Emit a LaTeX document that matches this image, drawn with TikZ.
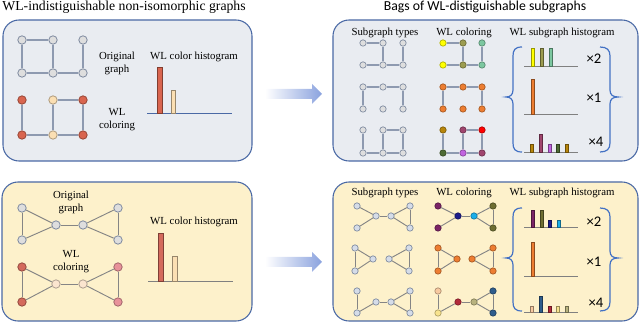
\documentclass[tikz,border=0pt]{standalone}
\usepackage{fontspec}
\setmainfont{Liberation Serif}
\newfontfamily\calfont{Carlito}
\definecolor{boxline}{HTML}{4A69A5}
\definecolor{topfill}{HTML}{E9ECF1}
\definecolor{botfill}{HTML}{FDF1CB}
\definecolor{nodegray}{HTML}{DEDEDE}
\definecolor{nodeblue}{HTML}{D5DCE8}
\definecolor{nodeline}{HTML}{7F8BA0}
\definecolor{edgecol}{HTML}{8E9AB0}
\definecolor{edgegray}{HTML}{858585}
\definecolor{arrowblue}{HTML}{8AA2DE}
\definecolor{braceblue}{HTML}{4472C4}
\definecolor{cred}{HTML}{D9654F}
\definecolor{cpeach}{HTML}{FBDFB3}
\definecolor{cred2}{HTML}{D46A5C}
\definecolor{cpeach2}{HTML}{FBE5CF}
\definecolor{cpink}{HTML}{E8929A}
\definecolor{cyellow}{HTML}{FFFF00}
\definecolor{colive}{HTML}{9C9C50}
\definecolor{cmint}{HTML}{7CC7A0}
\definecolor{corange}{HTML}{ED7D31}
\definecolor{cgold}{HTML}{B8860B}
\definecolor{cberry}{HTML}{A0456E}
\definecolor{cbred}{HTML}{FF0000}
\definecolor{cdgreen}{HTML}{4E6B34}
\definecolor{cviolet}{HTML}{C264E0}
\definecolor{cpurple}{HTML}{7B2466}
\definecolor{cnavy}{HTML}{1C1C8C}
\definecolor{ccyan}{HTML}{1AAEEA}
\definecolor{colive2}{HTML}{6E6E32}
\definecolor{cpeach3}{HTML}{F7C9A0}
\definecolor{clyellow}{HTML}{F8E38E}
\definecolor{ccrimson}{HTML}{B32A3A}
\definecolor{ckhaki}{HTML}{B8B27E}
\definecolor{csteel}{HTML}{2F5D8C}
\tikzset{
  bn/.style={circle, inner sep=0pt, minimum size=6.3pt, draw=nodeline, line width=0.6pt, fill=nodegray},
  sn/.style={circle, inner sep=0pt, minimum size=4.8pt, draw=nodeline, line width=0.5pt, fill=nodegray},
  sb/.style={sn, fill=nodeblue},
  bc/.style={bn, fill=#1, draw=#1!70!black},
  sc/.style={sn, fill=#1, draw=#1!70!black},
  ed/.style={draw=edgecol, line width=1.3pt},
  ted/.style={draw=edgegray, line width=0.7pt},
  lab/.style={font=\fontsize{8.1}{9.75}\selectfont, inner sep=0pt, align=center},
  mult/.style={font=\calfont\fontsize{11}{12}\selectfont, inner sep=0pt},
  boxst/.style={draw=boxline, line width=0.8pt, rounded corners=12pt},
  brace/.style={draw=braceblue, line width=0.9pt},
  bar/.style={fill=#1, draw=#1!60!black, line width=0.4pt},
  base/.style={draw=gray, line width=0.6pt},
}
\begin{document}
\begin{tikzpicture}[x=0.75pt, y=-0.75pt]
\useasboundingbox (0,0) rectangle (640,323);
% titles
\node[inner sep=0pt, font=\fontsize{10.3}{12}\selectfont] (t1) at (124,7) {WL-indistiguishable non-isomorphic graphs};
\node[inner sep=0pt, font=\calfont\fontsize{10.3}{12}\selectfont] (t2) at (485,7) {Bags of WL-distiguishable subgraphs};
% boxes
\draw[boxst, fill=topfill] (3,20) rectangle (252,161);
\draw[boxst, fill=topfill] (333,20) rectangle (638,161);
\draw[boxst, fill=botfill] (2,182) rectangle (252,321);
\draw[boxst, fill=botfill] (333,182) rectangle (638,321);
% arrows
\shade[left color=white, right color=arrowblue] (265,89) -- (312,89) -- (312,84) -- (322,94) -- (312,104) -- (312,99) -- (265,99) -- cycle;
\shade[left color=white, right color=arrowblue] (265,257) -- (312,257) -- (312,252) -- (322,262) -- (312,272) -- (312,267) -- (265,267) -- cycle;

% ===== top-left =====
\node[bn] (a1) at (22,40) {}; \node[bn] (a2) at (53,40) {}; \node[bn] (a3) at (83,40) {};
\node[bn] (a4) at (22,73) {}; \node[bn] (a5) at (53,73) {}; \node[bn] (a6) at (83,73) {};
\draw[ed] (a1) -- (a2); \draw[ed] (a1) -- (a4); \draw[ed] (a2) -- (a5);
\draw[ed] (a4) -- (a5); \draw[ed] (a5) -- (a6); \draw[ed] (a3) -- (a6);
\node[bc=cred] (b1) at (22,100) {}; \node[bc=cpeach] (b2) at (53,100) {}; \node[bc=cred] (b3) at (83,100) {};
\node[bc=cred] (b4) at (22,135) {}; \node[bc=cpeach] (b5) at (53,135) {}; \node[bc=cred] (b6) at (83,135) {};
\draw[ed] (b1) -- (b4); \draw[ed] (b2) -- (b3); \draw[ed] (b2) -- (b5);
\draw[ed] (b3) -- (b6); \draw[ed] (b4) -- (b5); \draw[ed] (b5) -- (b6);
\node[lab] (l1) at (117,63.5) {Original\\graph};
\node[lab] (l2) at (117,120) {WL\\coloring};
\node[lab] (l3) at (194,57) {WL color histogram};
\draw[draw=boxline, line width=0.6pt] (147,113) -- (232,113);
\draw[bar=cred] (157,113) rectangle (162,67);
\draw[bar=cpeach] (171,113) rectangle (175.5,90);

% ===== bottom-left =====
\node[bn] (g1) at (22,208) {}; \node[bn] (g2) at (22,240) {}; \node[bn] (g3) at (56,225) {};
\node[bn] (g4) at (83,225) {}; \node[bn] (g5) at (118,208) {}; \node[bn] (g6) at (118,240) {};
\draw[ted] (g1) -- (g2); \draw[ted] (g1) -- (g3); \draw[ted] (g2) -- (g3); \draw[ted] (g3) -- (g4);
\draw[ted] (g4) -- (g5); \draw[ted] (g4) -- (g6); \draw[ted] (g5) -- (g6);
\node[bc=cred2] (h1) at (22,267) {}; \node[bc=cred2] (h2) at (22,302) {}; \node[bc=cpeach2] (h3) at (56,284) {};
\node[bc=cpeach2] (h4) at (83,284) {}; \node[bc=cpink] (h5) at (118,267) {}; \node[bc=cpink] (h6) at (118,302) {};
\draw[ted] (h1) -- (h2); \draw[ted] (h1) -- (h3); \draw[ted] (h2) -- (h3); \draw[ted] (h3) -- (h4);
\draw[ted] (h4) -- (h5); \draw[ted] (h4) -- (h6); \draw[ted] (h5) -- (h6);
\node[lab] (l4) at (71,202) {Original\\graph};
\node[lab] (l5) at (71,261.5) {WL\\coloring};
\node[lab] (l6) at (194,222) {WL color histogram};
\draw[base] (148,281) -- (233,281);
\draw[bar=cred2] (158,281) rectangle (163,233);
\draw[bar=cpeach] (172,281) rectangle (177,256);

% ===== top-right =====
\node[lab] (l7) at (385,33) {Subgraph types};
\node[lab] (l8) at (464,33) {WL coloring};
\node[lab] (l9) at (562,33) {WL subgraph histogram};
% row 1 types
\node[sn] (p1a) at (363,43) {}; \node[sn] (p1b) at (383,43) {}; \node[sn] (p1c) at (403,43) {};
\node[sn] (p1d) at (363,65) {}; \node[sn] (p1e) at (383,65) {}; \node[sn] (p1f) at (403,65) {};
\draw[ed] (p1a) -- (p1b); \draw[ed] (p1b) -- (p1e); \draw[ed] (p1c) -- (p1f); \draw[ed] (p1d) -- (p1e); \draw[ed] (p1e) -- (p1f);
% row 2 types
\node[sn] (p2a) at (363,87) {}; \node[sn] (p2b) at (383,87) {}; \node[sn] (p2c) at (403,87) {};
\node[sn] (p2d) at (363,109) {}; \node[sn] (p2e) at (383,109) {}; \node[sn] (p2f) at (403,109) {};
\draw[ed] (p2a) -- (p2b); \draw[ed] (p2b) -- (p2c); \draw[ed] (p2a) -- (p2d); \draw[ed] (p2c) -- (p2f);
% row 3 types
\node[sn] (p3a) at (363,130) {}; \node[sn] (p3b) at (383,130) {}; \node[sn] (p3c) at (403,130) {};
\node[sn] (p3d) at (363,153) {}; \node[sn] (p3e) at (383,153) {}; \node[sn] (p3f) at (403,153) {};
\draw[ed] (p3a) -- (p3d); \draw[ed] (p3d) -- (p3e); \draw[ed] (p3e) -- (p3f); \draw[ed] (p3b) -- (p3e); \draw[ed] (p3b) -- (p3c); \draw[ed] (p3c) -- (p3f);
% row 1 WL
\node[sc=cyellow] (q1a) at (443,43) {}; \node[sc=colive] (q1b) at (463,43) {}; \node[sc=cmint] (q1c) at (482,43) {};
\node[sc=cyellow] (q1d) at (443,65) {}; \node[sc=colive] (q1e) at (463,65) {}; \node[sc=cmint] (q1f) at (482,65) {};
\draw[ed] (q1a) -- (q1b); \draw[ed] (q1b) -- (q1e); \draw[ed] (q1c) -- (q1f); \draw[ed] (q1d) -- (q1e); \draw[ed] (q1e) -- (q1f);
% row 2 WL
\node[sc=corange] (q2a) at (443,87) {}; \node[sc=corange] (q2b) at (463,87) {}; \node[sc=corange] (q2c) at (482,87) {};
\node[sc=corange] (q2d) at (443,109) {}; \node[sc=corange] (q2e) at (463,109) {}; \node[sc=corange] (q2f) at (482,109) {};
\draw[ed] (q2a) -- (q2b); \draw[ed] (q2b) -- (q2c); \draw[ed] (q2a) -- (q2d); \draw[ed] (q2c) -- (q2f);
% row 3 WL
\node[sc=cgold] (q3a) at (443,130) {}; \node[sc=cberry] (q3b) at (463,130) {}; \node[sc=cbred] (q3c) at (482,130) {};
\node[sc=cdgreen] (q3d) at (443,153) {}; \node[sc=cviolet] (q3e) at (463,153) {}; \node[sc=cberry] (q3f) at (482,153) {};
\draw[ed] (q3a) -- (q3d); \draw[ed] (q3d) -- (q3e); \draw[ed] (q3e) -- (q3f); \draw[ed] (q3b) -- (q3e); \draw[ed] (q3b) -- (q3c); \draw[ed] (q3c) -- (q3f);
% braces
\draw[brace] (522,47) .. controls (515,47) and (513,50) .. (513,56) -- (513,90) .. controls (513,95) and (510,97) .. (506,97) .. controls (510,97) and (513,99) .. (513,104) -- (513,143) .. controls (513,149) and (515,152) .. (522,152);
\draw[brace] (600,47) .. controls (607,47) and (610,50) .. (610,56) -- (610,90) .. controls (610,95) and (613,97) .. (618,97) .. controls (613,97) and (610,99) .. (610,104) -- (610,143) .. controls (610,149) and (607,152) .. (600,152);
% histograms
\draw[base] (524,66) -- (578,66);
\draw[bar=cyellow] (531,66) rectangle (534,48);
\draw[bar=colive] (540,66) rectangle (543,48);
\draw[bar=cmint] (549,66) rectangle (552,48);
\node[mult] (m1) at (594,59) {×2};
\draw[base] (524,114) -- (578,114);
\draw[bar=corange] (531,114) rectangle (534,79);
\node[mult] (m2) at (594,98) {×1};
\draw[base] (524,152) -- (578,152);
\draw[bar=cgold] (530,152) rectangle (533,144);
\draw[bar=cberry] (539,152) rectangle (542,134);
\draw[bar=cviolet] (548,152) rectangle (551,144);
\draw[bar=cdgreen] (556.5,152) rectangle (559.5,144);
\draw[bar=cgold] (565,152) rectangle (568,144);
\node[mult] (m3) at (596,142) {×4};

% ===== bottom-right =====
\node[lab] (l10) at (385,193) {Subgraph types};
\node[lab] (l11) at (464,193) {WL coloring};
\node[lab] (l12) at (562,193) {WL subgraph histogram};
% row 1 types
\node[sb] (r1a) at (357,206) {}; \node[sb] (r1b) at (357,228) {}; \node[sb] (r1c) at (376,216) {};
\node[sb] (r1d) at (391,216) {}; \node[sb] (r1e) at (410,206) {}; \node[sb] (r1f) at (410,228) {};
\draw[ted] (r1a) -- (r1c); \draw[ted] (r1b) -- (r1c); \draw[ted] (r1c) -- (r1d); \draw[ted] (r1d) -- (r1e); \draw[ted] (r1d) -- (r1f); \draw[ted] (r1e) -- (r1f);
% row 2 types
\node[sb] (r2a) at (355,248) {}; \node[sb] (r2b) at (355,271) {}; \node[sb] (r2c) at (373,259) {};
\node[sb] (r2d) at (389,259) {}; \node[sb] (r2e) at (409,248) {}; \node[sb] (r2f) at (409,271) {};
\draw[ted] (r2a) -- (r2b); \draw[ted] (r2a) -- (r2c); \draw[ted] (r2b) -- (r2c); \draw[ted] (r2d) -- (r2e); \draw[ted] (r2d) -- (r2f); \draw[ted] (r2e) -- (r2f);
% row 3 types
\node[sb] (r3a) at (357,291) {}; \node[sb] (r3b) at (357,313) {}; \node[sb] (r3c) at (376,302) {};
\node[sb] (r3d) at (391,302) {}; \node[sb] (r3e) at (410,291) {}; \node[sb] (r3f) at (410,313) {};
\draw[ted] (r3a) -- (r3b); \draw[ted] (r3b) -- (r3c); \draw[ted] (r3c) -- (r3d); \draw[ted] (r3d) -- (r3e); \draw[ted] (r3d) -- (r3f); \draw[ted] (r3e) -- (r3f);
% row 1 WL
\node[sc=cpurple] (s1a) at (438,206) {}; \node[sc=cpurple] (s1b) at (438,228) {}; \node[sc=cnavy] (s1c) at (458,216) {};
\node[sc=ccyan] (s1d) at (474,216) {}; \node[sc=colive2] (s1e) at (493,206) {}; \node[sc=colive2] (s1f) at (493,228) {};
\draw[ted] (s1a) -- (s1c); \draw[ted] (s1b) -- (s1c); \draw[ted] (s1c) -- (s1d); \draw[ted] (s1d) -- (s1e); \draw[ted] (s1d) -- (s1f); \draw[ted] (s1e) -- (s1f);
% row 2 WL
\node[sc=corange] (s2a) at (438,248) {}; \node[sc=corange] (s2b) at (438,271) {}; \node[sc=corange] (s2c) at (457,259) {};
\node[sc=corange] (s2d) at (472,259) {}; \node[sc=corange] (s2e) at (493,248) {}; \node[sc=corange] (s2f) at (493,271) {};
\draw[ted] (s2a) -- (s2b); \draw[ted] (s2a) -- (s2c); \draw[ted] (s2b) -- (s2c); \draw[ted] (s2d) -- (s2e); \draw[ted] (s2d) -- (s2f); \draw[ted] (s2e) -- (s2f);
% row 3 WL
\node[sc=cpeach3] (s3a) at (438,291) {}; \node[sc=clyellow] (s3b) at (438,313) {}; \node[sc=ccrimson] (s3c) at (458,302) {};
\node[sc=ckhaki] (s3d) at (474,302) {}; \node[sc=csteel] (s3e) at (493,291) {}; \node[sc=csteel] (s3f) at (493,313) {};
\draw[ted] (s3a) -- (s3b); \draw[ted] (s3b) -- (s3c); \draw[ted] (s3c) -- (s3d); \draw[ted] (s3d) -- (s3e); \draw[ted] (s3d) -- (s3f); \draw[ted] (s3e) -- (s3f);
% braces
\draw[brace] (522,208) .. controls (515,208) and (513,211) .. (513,217) -- (513,251) .. controls (513,256) and (510,258) .. (506,258) .. controls (510,258) and (513,260) .. (513,265) -- (513,302) .. controls (513,308) and (515,311) .. (522,311);
\draw[brace] (600,208) .. controls (607,208) and (610,211) .. (610,217) -- (610,251) .. controls (610,256) and (613,258) .. (618,258) .. controls (613,258) and (610,260) .. (610,265) -- (610,302) .. controls (610,308) and (607,311) .. (600,311);
% histograms
\draw[base] (524,227) -- (578,227);
\draw[bar=cpurple] (531,227) rectangle (534,210);
\draw[bar=colive2] (540,227) rectangle (543,210);
\draw[bar=cnavy] (548,227) rectangle (551.5,220);
\draw[bar=ccyan] (557,227) rectangle (560,220);
\node[mult] (m4) at (594,222) {×2};
\draw[base] (524,276) -- (578,276);
\draw[bar=corange] (531,276) rectangle (534,242);
\node[mult] (m5) at (594,262) {×1};
\draw[base] (524,312) -- (578,312);
\draw[bar=cpeach3] (530,312) rectangle (533,306);
\draw[bar=csteel] (539,312) rectangle (542.5,296);
\draw[bar=ccrimson] (548,312) rectangle (551,306);
\draw[bar=clyellow] (556.5,312) rectangle (559.5,306);
\draw[bar=ckhaki] (565,312) rectangle (568,306);
\node[mult] (m6) at (596,303) {×4};
\end{tikzpicture}
\end{document}
